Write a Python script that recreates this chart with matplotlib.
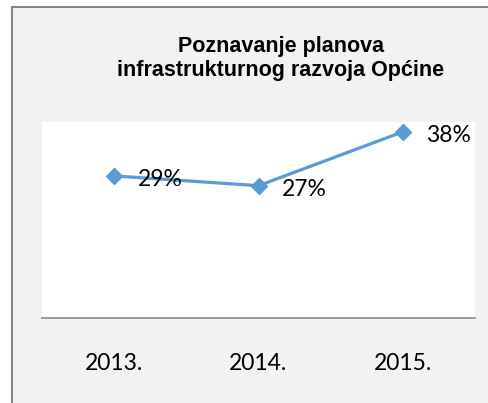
import matplotlib
matplotlib.use("Agg")
import matplotlib.pyplot as plt
from matplotlib.patches import Rectangle

title = "Poznavanje planova\ninfrastrukturnog razvoja Općine"
years = ["2013.", "2014.", "2015."]
values = [0.29, 0.27, 0.38]
value_labels = ["29%", "27%", "38%"]

W, H = 489, 403
fig = plt.figure(figsize=(W / 100, H / 100), dpi=100)
fig.patch.set_facecolor("white")

# outer chart frame (clipped at right and bottom)
fig.patches.append(Rectangle((12 / W, -0.1), 1.2, 1.1 - 7 / H, transform=fig.transFigure,
                             facecolor="#f2f2f2", edgecolor="#868686", linewidth=1.5, zorder=-10))

ax = fig.add_axes([42 / W, 1 - 318 / H, (475 - 42) / W, (318 - 122) / H])
ax.set_zorder(1)
ax.set_facecolor("white")
x = list(range(len(years)))
ax.plot(x, values, color="#5b9bd5", linewidth=2.3, marker="D", markersize=8.5, zorder=3)
for xi, v, lab in zip(x, values, value_labels):
    ax.annotate(lab, (xi, v), xytext=(17, -2.5), textcoords="offset points",
                ha="left", va="center", fontsize=16.5, family="Lato", color="black")
ax.set_xlim(-0.5, 2.5)
ax.set_ylim(0, 0.40)
ax.set_yticks([])
ax.set_xticks(x)
ax.set_xticklabels(years, fontsize=16.5, family="Lato")
ax.tick_params(axis="x", length=0, pad=25)
for s in ["left", "right", "top"]:
    ax.spines[s].set_visible(False)
ax.spines["bottom"].set_color("#898989")
ax.spines["bottom"].set_linewidth(1.2)

fig.text(281 / W, 1 - 58.5 / H, title, ha="center", va="center", fontsize=15.5,
         fontweight="bold", family="Liberation Sans", linespacing=1.22)

fig.savefig("out.png", dpi=100)
